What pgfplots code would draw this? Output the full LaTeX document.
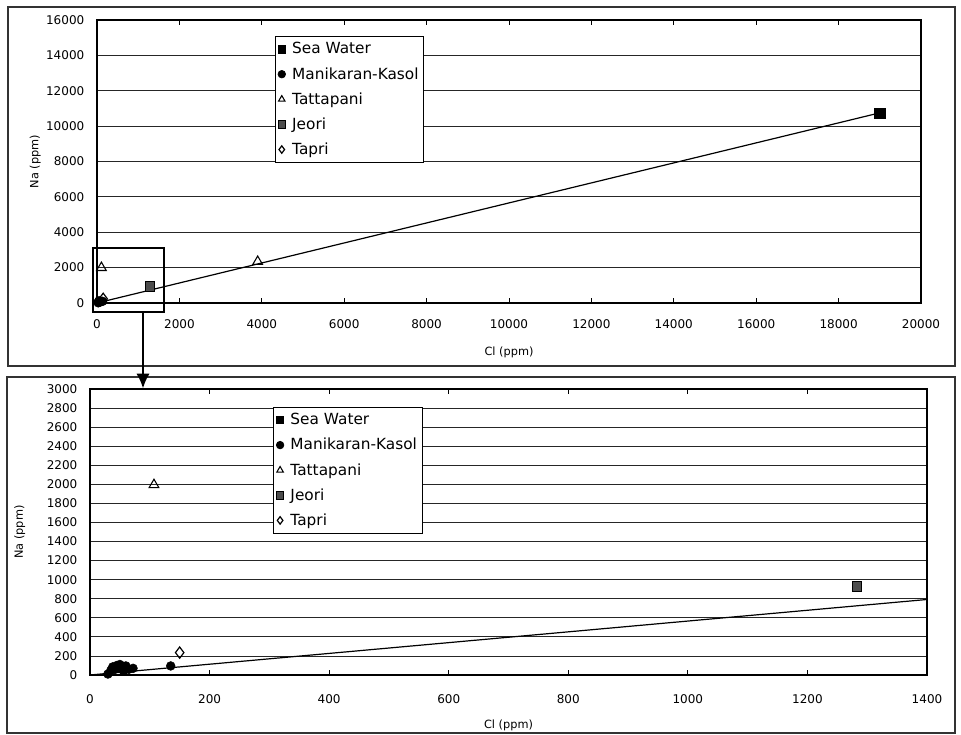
\documentclass[border=0pt]{standalone}
\usepackage{fontspec}
\setmainfont{DejaVu Sans}
\usepackage{pgfplots}
\usepackage{pgfplotstable}
\pgfplotsset{compat=1.18}
\usetikzlibrary{arrows.meta}

\pgfplotstableread{
x y
19000 10750
}\seawater
\pgfplotstableread{
x y
30 10
35 50
38 85
42 60
45 100
48 75
50 110
53 90
56 40
60 95
65 60
72 70
135 95
}\manikaran
\pgfplotstableread{
x y
107 1995
3900 2340
}\tattapani
\pgfplotstableread{
x y
1283 930
}\jeori
\pgfplotstableread{
x y
150 235
}\tapri

\pgfplotsset{
  mystyle/.style={
    scale only axis,
    scaled ticks=false,
    axis line style={line width=0.8pt},
    ymajorgrids,
    grid style={line width=0.6pt, black!85},
    tick align=inside,
    major tick length=4pt,
    ytick style={draw=none},
    xtick style={black, line width=0.6pt},
    /pgf/number format/assume math mode=true,
    /pgf/number format/1000 sep={},
    tick label style={font=\fontsize{9}{10}\selectfont},
    label style={font=\fontsize{8.5}{10}\selectfont},
    xticklabel style={yshift=-9pt},
    yticklabel style={xshift=-6pt},
    legend cell align=left,
    legend style={font=\fontsize{11.5}{13}\selectfont, draw=black, line width=0.6pt,
      inner xsep=2pt, inner ysep=2.5pt, row sep=4.6pt, anchor=north west,
      /tikz/every odd column/.append style={column sep=3pt}},
    legend image post style={mark size=2.8pt},
  },
  sea/.style={only marks, mark=square*, mark size=3.8pt, black, mark options={fill=black}},
  mani/.style={only marks, mark=*, mark size=3.3pt, black, mark options={fill=black}},
  tatta/.style={only marks, mark=triangle, mark size=4.2pt, black, mark options={fill=white, line width=0.8pt}},
  jeo/.style={only marks, mark=square*, mark size=3.6pt, black, mark options={fill=black!70, draw=black, line width=0.8pt}},
  tap/.style={only marks, mark=diamond, mark size=4.2pt, black, mark options={fill=white, line width=0.9pt}},
}

\begin{document}
\begin{tikzpicture}
\useasboundingbox (0,0) rectangle (720.75pt,551.25pt);
% panel frames
\draw[line width=0.8pt, black!80] (6pt,276.75pt) rectangle (716.25pt,546pt);
\draw[line width=0.8pt, black!80] (5.25pt,1.5pt) rectangle (716.25pt,268.5pt);

% top axis
\begin{axis}[mystyle,
  at={(72.75pt,324pt)}, anchor=south west,
  width=618pt, height=212.25pt,
  xmin=0, xmax=20000, ymin=0, ymax=16000,
  xtick={0,2000,...,20000}, ytick={0,2000,...,16000},
  xlabel={Cl (ppm)}, ylabel={Na (ppm)},
  xlabel style={at={(axis description cs:0.5,-0.173)}, anchor=center},
  ylabel style={at={(axis description cs:-0.075,0.5)}, anchor=center},
  legend style={at={(axis description cs:0.216,0.943)}},
]
\addplot[black, line width=0.9pt, forget plot] coordinates {(0,0) (19000,10750)};
\addplot[sea] table {\seawater};
\addlegendentry{Sea Water}
\addplot[mani] table {\manikaran};
\addlegendentry{Manikaran-Kasol}
\addplot[tatta] table {\tattapani};
\addlegendentry{Tattapani}
\addplot[jeo] table {\jeori};
\addlegendentry{Jeori}
\addplot[tap] table {\tapri};
\addlegendentry{Tapri}
\draw[line width=1.5pt] (rel axis cs:0,0) -- (rel axis cs:1,0);
\end{axis}

% bottom axis
\begin{axis}[mystyle,
  at={(67.5pt,45pt)}, anchor=south west,
  width=627.75pt, height=214.5pt,
  xmin=0, xmax=1400, ymin=0, ymax=3000,
  xtick={0,200,...,1400}, ytick={0,200,...,3000},
  xlabel={Cl (ppm)}, ylabel={Na (ppm)},
  xticklabel style={yshift=-2pt},
  xlabel style={at={(axis description cs:0.5,-0.175)}, anchor=center},
  ylabel style={at={(axis description cs:-0.084,0.5)}, anchor=center},
  legend style={at={(axis description cs:0.219,0.937)}},
]
\addplot[black, line width=0.9pt, forget plot] coordinates {(0,0) (19000,10750)};
\addplot[sea] table {\seawater};
\addlegendentry{Sea Water}
\addplot[mani] table {\manikaran};
\addlegendentry{Manikaran-Kasol}
\addplot[tatta] table {\tattapani};
\addlegendentry{Tattapani}
\addplot[jeo] table {\jeori};
\addlegendentry{Jeori}
\addplot[tap] table {\tapri};
\addlegendentry{Tapri}
\draw[line width=1.5pt] (rel axis cs:0,0) -- (rel axis cs:1,0);
\end{axis}

% zoom box and arrow
\draw[line width=1.5pt] (69.75pt,317.25pt) rectangle (123pt,365.25pt);
\draw[line width=1.5pt, -{Latex[length=11pt,width=10pt]}] (107.25pt,317.25pt) -- (107.25pt,260pt);
\end{tikzpicture}
\end{document}
